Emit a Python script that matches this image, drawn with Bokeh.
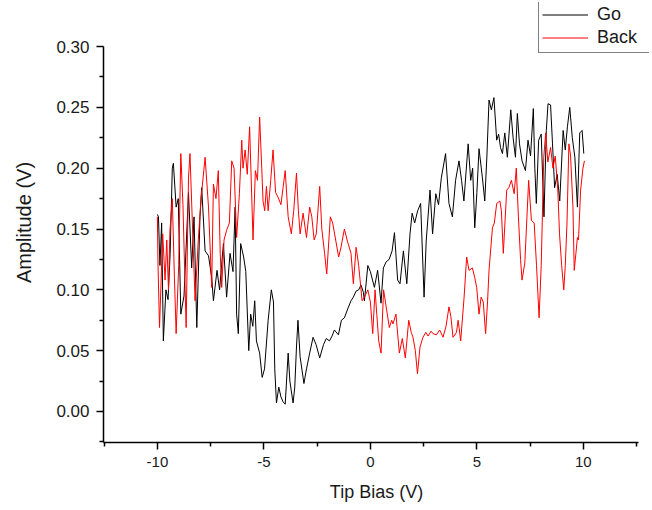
from bokeh.plotting import figure
from bokeh.models import Legend, FixedTicker, Range1d
from bokeh.embed import file_html
from bokeh.resources import INLINE

# ---- data ----
go_x = [-10.0, -9.95, -9.88, -9.8, -9.72, -9.6, -9.5, -9.4, -9.3, -9.25, -9.12, -9.02, -8.9, -8.75, -8.54,
        -8.39, -8.28, -8.15, -8.0, -7.92, -7.76, -7.6, -7.45, -7.37, -7.2, -7.08, -6.9, -6.75, -6.59, -6.45,
        -6.35, -6.28, -6.2, -6.09, -5.95, -5.85, -5.71, -5.62, -5.52, -5.43, -5.35, -5.2, -5.08, -4.97, -4.8,
        -4.65, -4.55, -4.49, -4.41, -4.3, -4.2, -4.1, -4.0, -3.86, -3.78, -3.63, -3.55, -3.47, -3.4, -3.3,
        -3.12, -3.0, -2.85, -2.69, -2.55, -2.38, -2.2, -2.07, -1.92, -1.8, -1.69, -1.5, -1.36, -1.22, -1.05,
        -0.91, -0.8, -0.67, -0.55, -0.44, -0.33, -0.28, -0.12, 0.0, 0.1, 0.19, 0.34, 0.5, 0.61, 0.74,
        0.88, 1.02, 1.13, 1.28, 1.39, 1.55, 1.71, 1.86, 1.96, 2.08, 2.22, 2.36, 2.52, 2.62, 2.8,
        2.92, 3.07, 3.2, 3.33, 3.53, 3.69, 3.85, 4.0, 4.16, 4.28, 4.39, 4.59, 4.71, 4.8, 4.9,
        5.0, 5.1, 5.26, 5.37, 5.47, 5.57, 5.68, 5.8, 5.93, 6.02, 6.11, 6.2, 6.31, 6.43, 6.59,
        6.7, 6.81, 6.9, 7.0, 7.12, 7.28, 7.4, 7.52, 7.65, 7.72, 7.79, 7.9, 8.02, 8.15, 8.26,
        8.34, 8.46, 8.55, 8.65, 8.77, 8.89, 9.05, 9.15, 9.25, 9.36, 9.48, 9.6, 9.72, 9.83, 9.94, 10.02]
go_y = [0.162, 0.16, 0.12, 0.155, 0.058, 0.10, 0.092, 0.13, 0.20, 0.204, 0.168, 0.175, 0.08, 0.095, 0.18,
        0.118, 0.16, 0.069, 0.16, 0.184, 0.132, 0.128, 0.11, 0.091, 0.116, 0.10, 0.138, 0.094, 0.13, 0.115,
        0.168, 0.08, 0.064, 0.138, 0.127, 0.115, 0.05, 0.08, 0.07, 0.091, 0.058, 0.048, 0.028, 0.035, 0.075,
        0.10, 0.09, 0.035, 0.007, 0.02, 0.012, 0.008, 0.006, 0.048, 0.025, 0.007, 0.02, 0.053, 0.075, 0.045,
        0.023, 0.035, 0.048, 0.061, 0.055, 0.044, 0.055, 0.06, 0.058, 0.062, 0.067, 0.063, 0.075, 0.077, 0.085,
        0.091, 0.094, 0.099, 0.10, 0.104, 0.098, 0.091, 0.12, 0.115, 0.108, 0.102, 0.116, 0.089, 0.118, 0.123,
        0.125, 0.132, 0.147, 0.108, 0.105, 0.132, 0.105, 0.146, 0.163, 0.155, 0.165, 0.171, 0.094, 0.14, 0.182,
        0.146, 0.179, 0.17, 0.192, 0.212, 0.171, 0.16, 0.19, 0.206, 0.19, 0.173, 0.22, 0.19, 0.20, 0.151,
        0.18, 0.216, 0.192, 0.173, 0.21, 0.256, 0.248, 0.258, 0.223, 0.228, 0.217, 0.212, 0.229, 0.209, 0.248,
        0.225, 0.209, 0.245, 0.22, 0.206, 0.198, 0.223, 0.21, 0.249, 0.20, 0.171, 0.223, 0.228, 0.16, 0.231,
        0.253, 0.252, 0.22, 0.184, 0.195, 0.173, 0.231, 0.215, 0.234, 0.25, 0.225, 0.209, 0.168, 0.229, 0.231, 0.212]

back_x = [-10.0, -9.97, -9.9, -9.75, -9.64, -9.56, -9.48, -9.41, -9.3, -9.2, -9.12, -9.0, -8.9, -8.8, -8.65,
          -8.54, -8.47, -8.34, -8.23, -8.08, -7.95, -7.76, -7.6, -7.45, -7.37, -7.25, -7.14, -7.05, -6.98, -6.87,
          -6.75, -6.62, -6.51, -6.4, -6.28, -6.15, -6.04, -5.98, -5.88, -5.78, -5.67, -5.51, -5.4, -5.3, -5.2,
          -5.1, -5.04, -4.96, -4.88, -4.8, -4.68, -4.57, -4.45, -4.33, -4.2, -4.1, -4.0, -3.86, -3.71, -3.6,
          -3.47, -3.38, -3.3, -3.16, -3.0, -2.85, -2.75, -2.64, -2.54, -2.38, -2.28, -2.15, -2.05, -1.88, -1.77,
          -1.62, -1.49, -1.38, -1.22, -1.08, -0.91, -0.8, -0.67, -0.55, -0.39, -0.28, -0.12, 0.0, 0.11, 0.22,
          0.3, 0.39, 0.5, 0.62, 0.75, 0.89, 1.0, 1.06, 1.2, 1.36, 1.5, 1.64, 1.8, 1.92, 2.0,
          2.11, 2.21, 2.33, 2.47, 2.6, 2.71, 2.85, 2.94, 3.1, 3.25, 3.41, 3.55, 3.69, 3.78, 3.88,
          4.04, 4.12, 4.24, 4.4, 4.52, 4.63, 4.79, 4.9, 4.99, 5.1, 5.2, 5.3, 5.41, 5.5, 5.57,
          5.73, 5.82, 5.93, 6.08, 6.15, 6.24, 6.4, 6.5, 6.62, 6.75, 6.85, 6.95, 7.05, 7.12, 7.25,
          7.35, 7.43, 7.56, 7.69, 7.8, 7.92, 8.02, 8.14, 8.23, 8.33, 8.46, 8.57, 8.68, 8.8, 8.88,
          8.98, 9.08, 9.15, 9.23, 9.32, 9.4, 9.51, 9.57, 9.65, 9.72, 9.77, 9.87, 9.98, 10.05]
back_y = [0.16, 0.12, 0.069, 0.146, 0.108, 0.141, 0.10, 0.149, 0.175, 0.11, 0.064, 0.12, 0.212, 0.17, 0.069,
          0.192, 0.212, 0.146, 0.091, 0.141, 0.175, 0.209, 0.168, 0.102, 0.187, 0.175, 0.198, 0.13, 0.102, 0.141,
          0.149, 0.155, 0.206, 0.20, 0.143, 0.179, 0.223, 0.20, 0.215, 0.195, 0.234, 0.141, 0.198, 0.19, 0.242,
          0.20, 0.173, 0.165, 0.185, 0.165, 0.19, 0.215, 0.18, 0.176, 0.17, 0.184, 0.198, 0.16, 0.146, 0.165,
          0.196, 0.165, 0.146, 0.163, 0.143, 0.168, 0.16, 0.141, 0.146, 0.185, 0.15, 0.13, 0.113, 0.16, 0.155,
          0.14, 0.127, 0.135, 0.15, 0.14, 0.13, 0.105, 0.135, 0.12, 0.091, 0.094, 0.10, 0.09, 0.064, 0.10,
          0.08, 0.058, 0.048, 0.10, 0.085, 0.069, 0.075, 0.072, 0.08, 0.048, 0.06, 0.044, 0.075, 0.065, 0.061,
          0.05, 0.031, 0.053, 0.061, 0.065, 0.062, 0.066, 0.064, 0.063, 0.067, 0.061, 0.07, 0.086, 0.078, 0.061,
          0.065, 0.075, 0.058, 0.094, 0.127, 0.116, 0.118, 0.11, 0.102, 0.08, 0.094, 0.09, 0.064, 0.09, 0.116,
          0.151, 0.155, 0.171, 0.173, 0.165, 0.13, 0.182, 0.184, 0.19, 0.179, 0.20, 0.16, 0.125, 0.108, 0.122,
          0.16, 0.19, 0.157, 0.155, 0.12, 0.077, 0.12, 0.209, 0.229, 0.205, 0.217, 0.20, 0.21, 0.182, 0.146,
          0.12, 0.10, 0.12, 0.155, 0.22, 0.21, 0.168, 0.116, 0.13, 0.143, 0.141, 0.182, 0.20, 0.206]

series_names = ["Go", "Back"]
x_ticks = [-10, -5, 0, 5, 10]
x_tick_labels = ["-10", "-5", "0", "5", "10"]
x_minor = [-12.5, -7.5, -2.5, 2.5, 7.5, 12.5]
y_ticks = [0.00, 0.05, 0.10, 0.15, 0.20, 0.25, 0.30]
y_minor = [-0.025, 0.025, 0.075, 0.125, 0.175, 0.225, 0.275]
y_tick_labels = ["0.00", "0.05", "0.10", "0.15", "0.20", "0.25", "0.30"]

FONT = "Liberation Sans"
X_LO, X_AXIS_HI, X_HI = -12.53, 12.6, 13.104
Y_LO, Y_AXIS_TOP, Y_HI = -0.0255, 0.30, 0.3362

p = figure(width=650, height=506, output_backend="svg", toolbar_location=None,
           x_range=Range1d(X_LO, X_HI), y_range=Range1d(Y_LO, Y_HI),
           min_border_left=103, min_border_right=1, min_border_top=2, min_border_bottom=64)
p.outline_line_color = None
p.grid.visible = False
p.background_fill_color = "white"

r_go = p.line(go_x, go_y, line_color="black", line_width=1)
r_back = p.line(back_x, back_y, line_color="#ff0000", line_width=1)

for ax in (p.xaxis[0], p.yaxis[0]):
    ax.axis_line_color = "black"
    ax.axis_line_width = 1.5
    ax.major_tick_line_color = "black"
    ax.major_tick_line_width = 1.5
    ax.minor_tick_line_color = "black"
    ax.minor_tick_line_width = 1.5
    ax.major_tick_out = 7
    ax.major_tick_in = 0
    ax.minor_tick_out = 4
    ax.minor_tick_in = 0
    ax.major_label_text_font = FONT
    ax.major_label_text_color = "#1a1a1a"
    ax.axis_label_text_font = FONT
    ax.axis_label_text_font_style = "normal"
    ax.axis_label_text_color = "#1a1a1a"

p.xaxis[0].major_label_text_font_size = "15px"
p.yaxis[0].major_label_text_font_size = "17px"
p.xaxis[0].axis_label_text_font_size = "18px"
p.yaxis[0].axis_label_text_font_size = "20px"

p.xaxis[0].ticker = FixedTicker(ticks=x_ticks, minor_ticks=x_minor)
p.yaxis[0].ticker = FixedTicker(ticks=y_ticks, minor_ticks=y_minor)
p.xaxis[0].major_label_overrides = {t: l for t, l in zip(x_ticks, x_tick_labels)}
p.yaxis[0].major_label_overrides = {t: l for t, l in zip(y_ticks, y_tick_labels)}
p.xaxis[0].bounds = (X_LO, X_AXIS_HI)
p.yaxis[0].bounds = (Y_LO, Y_AXIS_TOP)
p.xaxis[0].axis_label = "Tip Bias (V)"
p.yaxis[0].axis_label = "Amplitude (V)"
p.xaxis[0].major_label_standoff = 7
p.yaxis[0].major_label_standoff = 7
p.xaxis[0].axis_label_standoff = 12
p.yaxis[0].axis_label_standoff = 18

legend = Legend(items=[(series_names[0], [r_go]), (series_names[1], [r_back])],
                location=(435, 389), orientation="vertical")
legend.border_line_color = "black"
legend.border_line_width = 1
legend.background_fill_color = "white"
legend.background_fill_alpha = 1
legend.label_text_font = FONT
legend.label_text_font_size = "18px"
legend.label_text_color = "#1a1a1a"
legend.glyph_width = 46
legend.glyph_height = 23
legend.label_height = 23
legend.label_width = 49
legend.label_standoff = 9
legend.padding = 3
legend.spacing = 0
legend.margin = 0
p.add_layout(legend, "center")

open("out.html", "w").write(file_html(p, INLINE))
